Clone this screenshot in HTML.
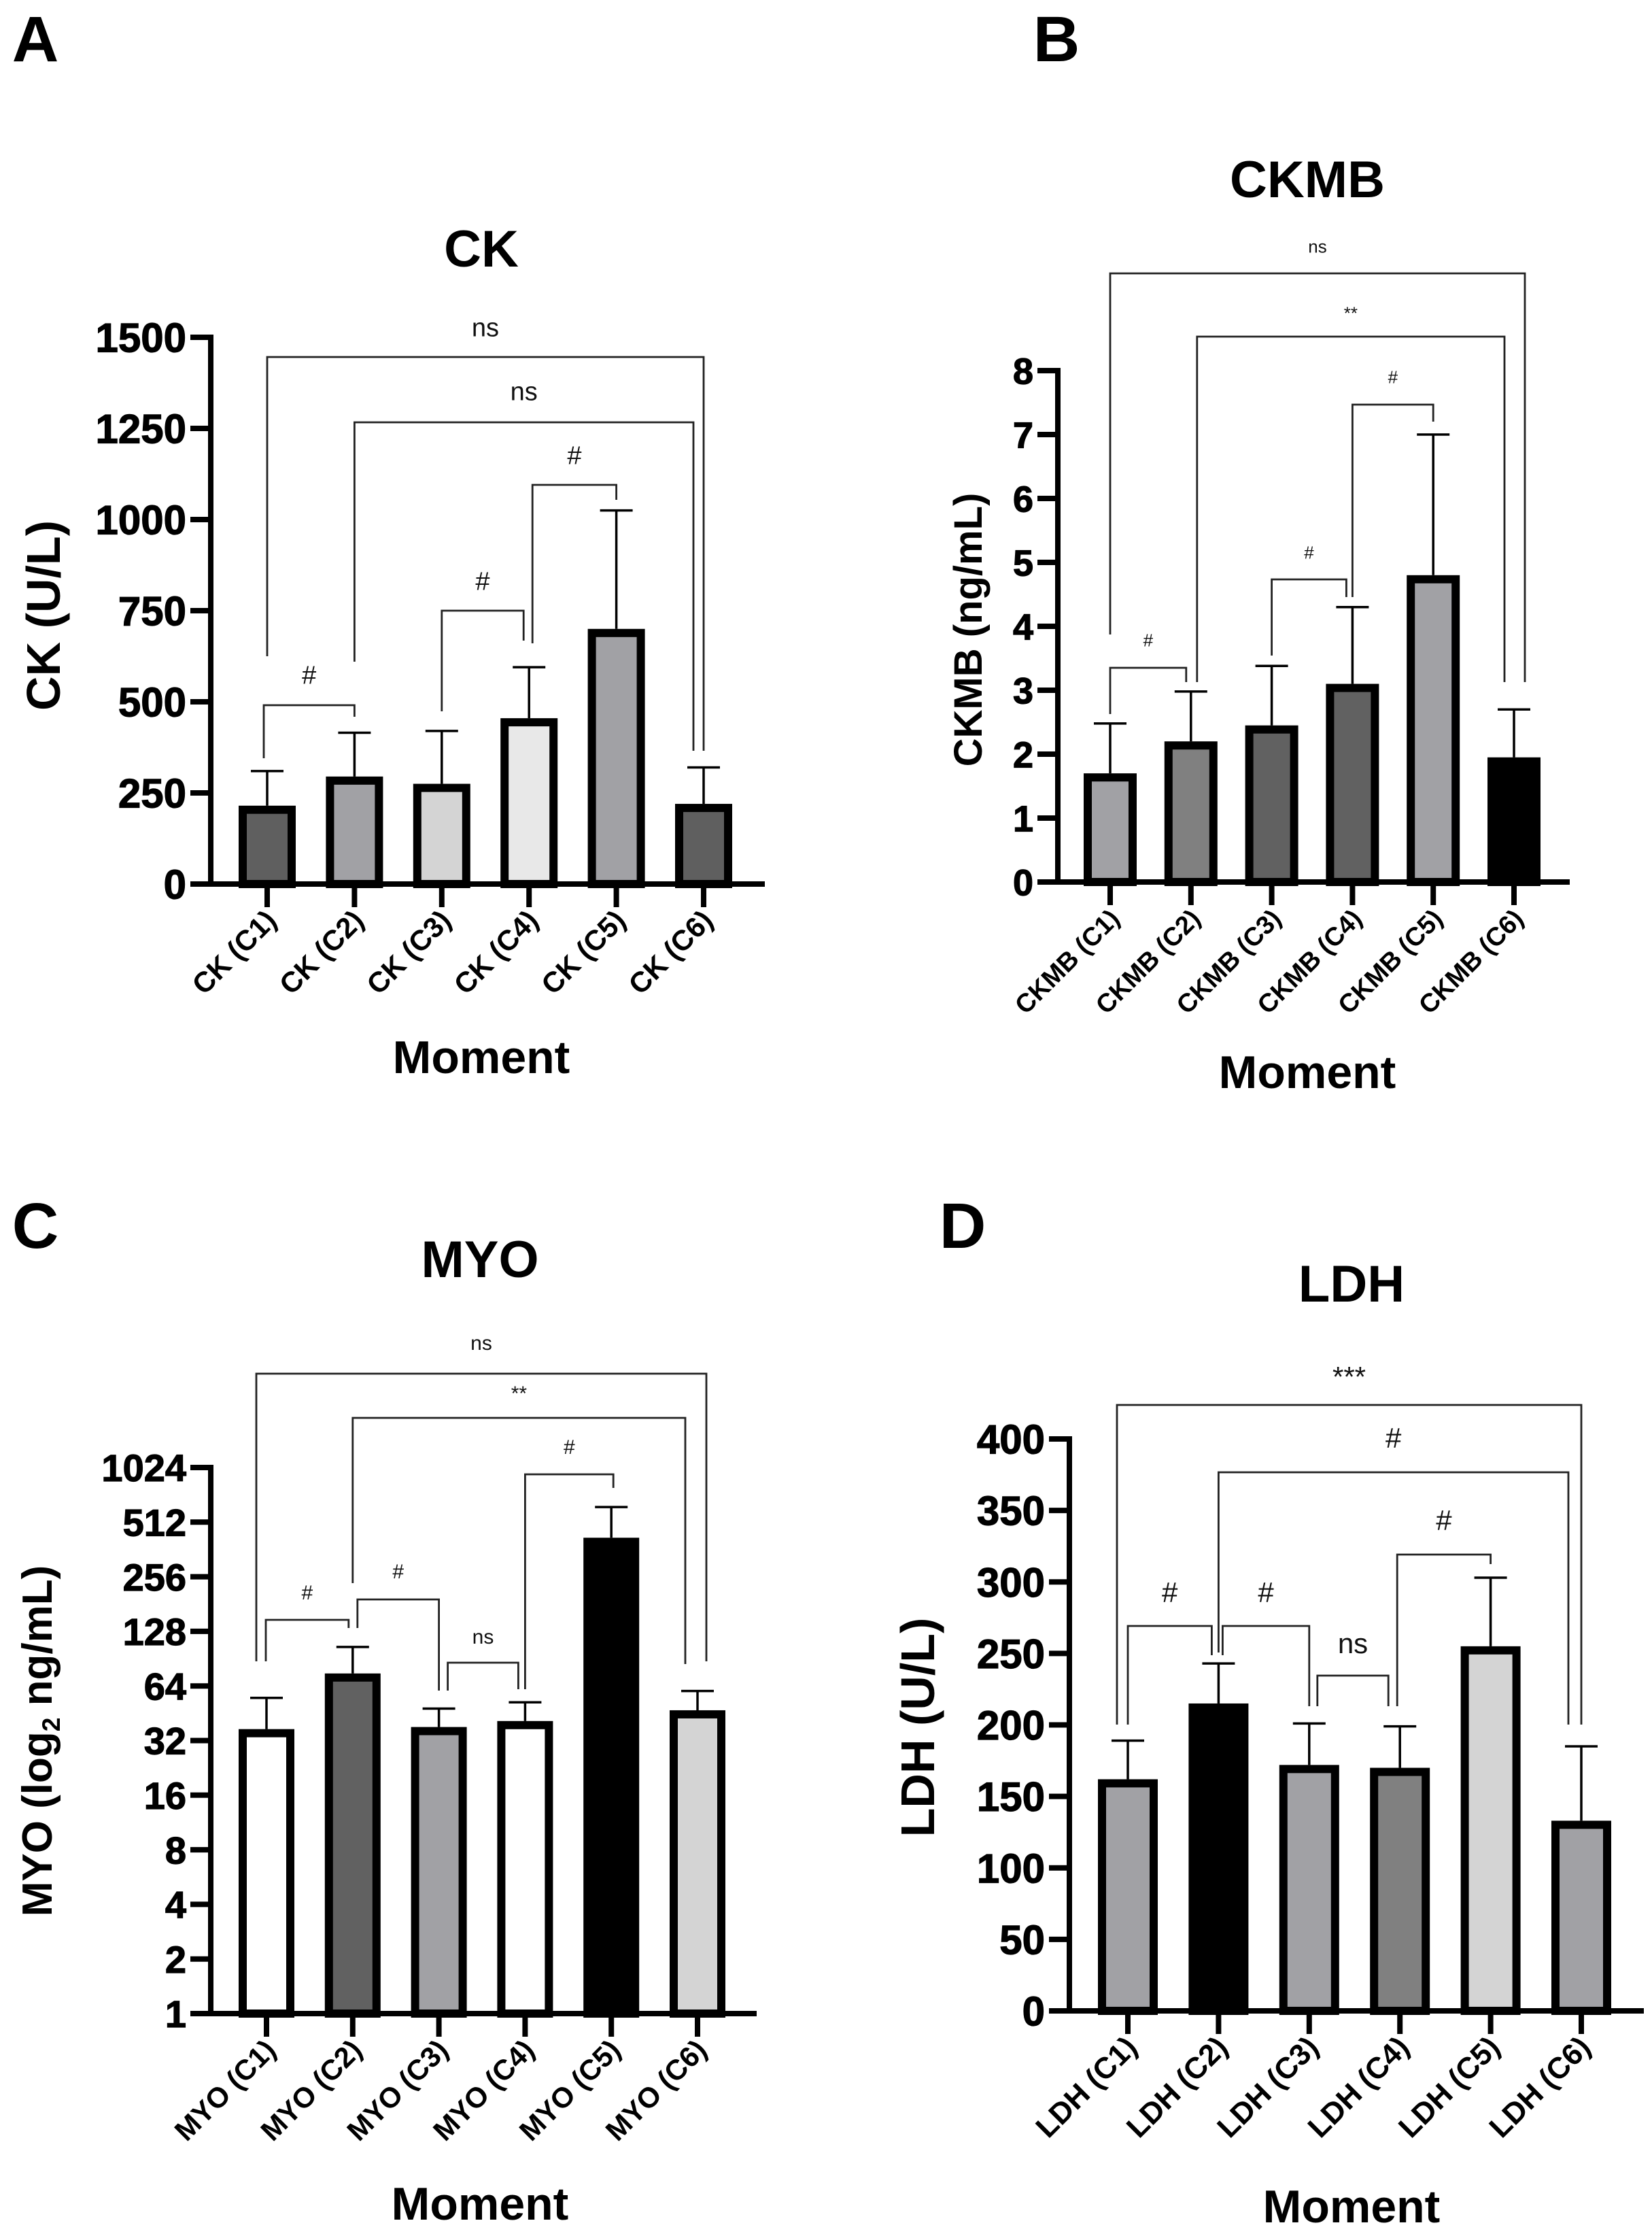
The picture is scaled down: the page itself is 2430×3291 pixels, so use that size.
<!DOCTYPE html>
<html><head><meta charset="utf-8"><style>
html,body{margin:0;padding:0;background:#fff;}
svg{display:block;font-family:"Liberation Sans",Arial,sans-serif;}
</style></head><body>
<svg id="fig" width="2430" height="3291" viewBox="0 0 2430 3291" xmlns="http://www.w3.org/2000/svg"></svg>
<script>
// ---------- data ----------
const ckCategories = ["CK (C1)","CK (C2)","CK (C3)","CK (C4)","CK (C5)","CK (C6)"];
const ckMeans = [215,295,275,455,700,220];
const ckErrors = [310,415,420,595,1025,320];
const ckTicks = [0,250,500,750,1000,1250,1500];

const ckmbCategories = ["CKMB (C1)","CKMB (C2)","CKMB (C3)","CKMB (C4)","CKMB (C5)","CKMB (C6)"];
const ckmbMeans = [1.7,2.2,2.45,3.1,4.8,1.95];
const ckmbErrors = [2.48,2.98,3.38,4.3,7.0,2.7];
const ckmbTicks = [0,1,2,3,4,5,6,7,8];

const myoCategories = ["MYO (C1)","MYO (C2)","MYO (C3)","MYO (C4)","MYO (C5)","MYO (C6)"];
const myoMeans = [37,75,38,41,420,47];
const myoErrors = [55,105,48,52,620,60];
const myoTicks = [1,2,4,8,16,32,64,128,256,512,1024];

const ldhCategories = ["LDH (C1)","LDH (C2)","LDH (C3)","LDH (C4)","LDH (C5)","LDH (C6)"];
const ldhMeans = [162,215,172,170,255,133];
const ldhErrors = [189,243,201,199,303,185];
const ldhTicks = [0,50,100,150,200,250,300,350,400];

// ---------- helpers ----------
const NS = "http://www.w3.org/2000/svg";
const svg = document.getElementById("fig");
function mk(tag, attrs, parent){
  const e = document.createElementNS(NS, tag);
  for (const k in attrs) e.setAttribute(k, attrs[k]);
  (parent||svg).appendChild(e);
  return e;
}
function txt(s, attrs, parent){ const t = mk("text", attrs, parent); t.textContent = s; return t; }

function panel(cfg){
  const g = mk("g", {});
  
  
  const y = cfg.log
    ? v => cfg.y0 - Math.log2(v) / Math.log2(cfg.max) * (cfg.y0 - cfg.yTop)
    : v => cfg.y0 - v / cfg.max * (cfg.y0 - cfg.yTop);
  const x = i => cfg.c0 + i * cfg.step;
  const base = cfg.log ? y(1) : y(0);

  const L = txt(cfg.letter, {x:cfg.letterX, y:cfg.letterY, "font-size":95, "font-weight":"bold", "text-anchor":"middle"}, g);
  
  
  const T = txt(cfg.title, {x:cfg.titleX, y:cfg.titleY, "font-size":76, "font-weight":"bold", "text-anchor":"middle"}, g);
  
  

  cfg.means.forEach((v, i) => {
    const sw = 12, w = cfg.barW;
    const top = y(v);
    const r = mk("rect", {x:x(i)-(w-sw)/2, y:top+sw/2, width:w-sw, height:Math.max(0, base-top-sw/2), fill:cfg.colors[i], stroke:"#000", "stroke-width":sw}, g);
    
    
    const eb = mk("g", {stroke:"#000", "stroke-width":3.5, fill:"none"}, g);
    
    
    mk("line", {x1:x(i), x2:x(i), y1:top, y2:y(cfg.errs[i])}, eb);
    mk("line", {x1:x(i)-24, x2:x(i)+24, y1:y(cfg.errs[i]), y2:y(cfg.errs[i])}, eb);
  });

  const ax = mk("g", {stroke:"#000", "stroke-width":8, fill:"none"}, g);
  
  
  mk("line", {x1:cfg.ax, x2:cfg.ax, y1:cfg.yTop-4, y2:base+4}, ax);
  mk("line", {x1:cfg.ax-cfg.tickLen, x2:cfg.xEnd, y1:base, y2:base}, ax);
  cfg.ticks.forEach(t => {
    mk("line", {x1:cfg.ax-cfg.tickLen, x2:cfg.ax, y1:y(t), y2:y(t)}, ax);
    const tl = txt(String(t), {x:cfg.ax-cfg.tickLen-6, y:y(t)+cfg.tickFont*0.36, "font-size":cfg.tickFont, "font-weight":"bold", "text-anchor":"end", stroke:"#000", "stroke-width":1.2}, g);
    
    
  });
  cfg.cats.forEach((c, i) => {
    mk("line", {x1:x(i), x2:x(i), y1:base, y2:base+34}, ax);
    const xl = txt(c, {x:0, y:0, "font-size":cfg.catFont, "font-weight":"bold", "text-anchor":"end",
      transform:`translate(${x(i)+16},${base+56}) rotate(-45)`}, g);
    
    
  });

  const yt = txt("", {x:0, y:0, "font-size":cfg.yFont, "font-weight":"bold", "text-anchor":"middle",
    transform:`translate(${cfg.yTitleX},${cfg.yTitleY}) rotate(-90)`}, g);
  
  
  if (cfg.log){
    const a = document.createElementNS(NS,"tspan"); a.textContent = "MYO (log"; yt.appendChild(a);
    const b = document.createElementNS(NS,"tspan"); b.textContent = "2"; b.setAttribute("font-size", cfg.yFont*0.6); b.setAttribute("dy", 12); yt.appendChild(b);
    const c = document.createElementNS(NS,"tspan"); c.textContent = " ng/mL)"; c.setAttribute("dy", -12); yt.appendChild(c);
  } else yt.textContent = cfg.yTitle;
  const xt = txt("Moment", {x:cfg.titleX, y:cfg.momentY, "font-size":68, "font-weight":"bold", "text-anchor":"middle"}, g);
  
  

  cfg.brackets.forEach(b => {
    const [i, j, yb, lb, rb, label, dl, dr, ly] = b;
    const xl = x(i)+dl, xr = x(j)+dr;
    const bg = mk("g", {}, g);
    
    
    mk("polyline", {points:`${xl},${lb} ${xl},${yb} ${xr},${yb} ${xr},${rb}`, fill:"none", stroke:"#222", "stroke-width":2.8}, bg);
    txt(label, {x:(xl+xr)/2, y:ly + cfg.sigFont*0.36, "font-size":cfg.sigFont, "text-anchor":"middle", fill:"#111"}, bg);
  });
}

panel({name:"ck", letter:"A", letterX:52, letterY:90, title:"CK", titleX:708, titleY:392,
  cats:ckCategories, means:ckMeans, errs:ckErrors, ticks:ckTicks, max:1500,
  ax:310, y0:1300, yTop:496, xEnd:1125, c0:393, step:128.4, barW:84, tickLen:30, tickFont:60, catFont:42,
  colors:["#5f5f5f","#a1a1a5","#d4d4d4","#e8e8e8","#a1a1a5","#5f5f5f"],
  yTitle:"CK (U/L)", yFont:70, yTitleX:88, yTitleY:905, momentY:1578, sigFont:38,
  brackets:[[0,5,525,965,1104,"ns",0,0,481],[1,5,621,973,1104,"ns",0,-15,575],[3,4,713,946,735,"#",5,0,669],
            [2,3,898,1046,942,"#",0,-8,854],[0,1,1037,1115,1054,"#",-5,0,992]]});

panel({name:"ckmb", letter:"B", letterX:1554, letterY:90, title:"CKMB", titleX:1923, titleY:290,
  cats:ckmbCategories, means:ckmbMeans, errs:ckmbErrors, ticks:ckmbTicks, max:8,
  ax:1556, y0:1297, yTop:545, xEnd:2309, c0:1633, step:118.8, barW:78, tickLen:30, tickFont:54, catFont:38,
  colors:["#a1a1a5","#808080","#616161","#616161","#a1a1a5","#000000"],
  yTitle:"CKMB (ng/mL)", yFont:58, yTitleX:1444, yTitleY:926, momentY:1600, sigFont:26,
  brackets:[[0,5,402,933,1003,"ns",0,16,362],[1,5,495,1003,1003,"**",9,-14,460],[3,4,595,878,620,"#",0,0,554],
            [2,3,852,964,878,"#",0,-9,812],[0,1,982,1050,1003,"#",0,-7,941]]});

panel({name:"myo", letter:"C", letterX:52, letterY:1835, title:"MYO", titleX:706, titleY:1878, log:true,
  cats:myoCategories, means:myoMeans, errs:myoErrors, ticks:myoTicks, max:1024,
  ax:310, y0:2961, yTop:2158, xEnd:1113, c0:392, step:126.8, barW:82, tickLen:30, tickFont:56, catFont:42,
  colors:["#ffffff","#616161","#a1a1a5","#ffffff","#000000","#d4d4d4"],
  yTitle:"", yFont:62, yTitleX:76, yTitleY:2560, momentY:3264, sigFont:30,
  brackets:[[0,5,2020,2443,2443,"ns",-15,13,1974],[1,5,2085,2328,2447,"**",0,-18,2048],[3,4,2168,2484,2188,"#",0,3,2127],
            [1,2,2352,2394,2486,"#",7,0,2310],[0,1,2382,2443,2394,"#",-1,-6,2341],[2,3,2445,2486,2484,"ns",13,-10,2406]]});

panel({name:"ldh", letter:"D", letterX:1416, letterY:1835, title:"LDH", titleX:1988, titleY:1914,
  cats:ldhCategories, means:ldhMeans, errs:ldhErrors, ticks:ldhTicks, max:400,
  ax:1573, y0:2957, yTop:2116, xEnd:2418, c0:1659, step:133.4, barW:88, tickLen:30, tickFont:60, catFont:44,
  colors:["#a1a1a5","#000000","#a1a1a5","#808080","#d4d4d4","#a1a1a5"],
  yTitle:"LDH (U/L)", yFont:70, yTitleX:1374, yTitleY:2540, momentY:3268, sigFont:42,
  brackets:[[0,5,2066,2536,2536,"***",-16,0,2024],[1,5,2165,2430,2536,"#",0,-19,2114],[3,4,2286,2509,2300,"#",-4,0,2235],
            [0,1,2391,2536,2434,"#",0,-10,2341],[1,2,2391,2434,2509,"#",6,0,2341],[2,3,2464,2509,2509,"ns",12,-17,2416]]});
</script>
</body></html>
